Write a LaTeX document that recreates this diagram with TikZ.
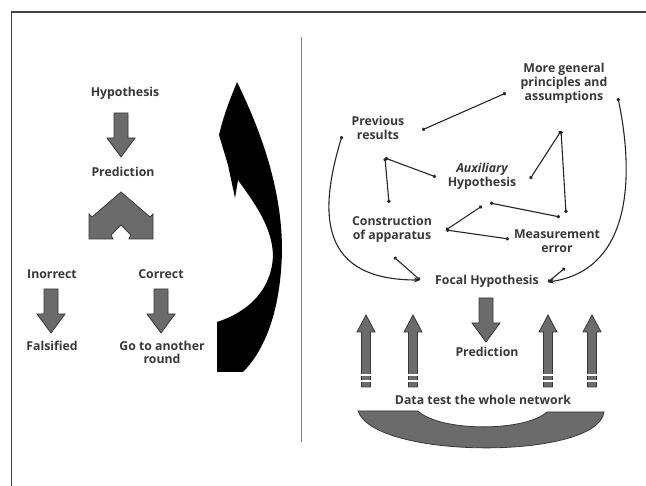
\documentclass[tikz,border=0pt]{standalone}
\usepackage{fontspec}
\setmainfont{Open Sans}
\usetikzlibrary{arrows.meta}
\begin{document}
\begin{tikzpicture}[x=1pt,y=-1pt,
  lbl/.style={font=\fontsize{12.3}{14}\selectfont\bfseries, text=black!78, align=center, inner sep=0pt},
  blk/.style={fill=black!58, draw=black!78, line width=0.8pt, line join=miter},
  con/.style={line width=1.1pt, draw=black!85, {Circle[length=3.4pt]}-{Circle[length=3.4pt]}},
  curv/.style={line width=1.1pt, draw=black!85, {Circle[length=3.4pt]}-{Stealth[length=6pt,width=5pt]}},
  dnarrow/.pic={\path[blk] (-7,0) -- (7,0) -- (7,25) -- (14,25) -- (0,44) -- (-14,25) -- (-7,25) -- cycle;},
  uparrow/.pic={\path[blk] (0,0) -- (9,17) -- (4.5,17) -- (4.5,72) -- (-4.5,72) -- (-4.5,17) -- (-9,17) -- cycle;
     \draw[white,line width=1.2pt] (-6,60) -- (6,60) (-6,66) -- (6,66);}
]
\fill[white] (0,0) rectangle (646,486);
\useasboundingbox (0,0) rectangle (646,486);

% frame and divider
\draw[line width=1.3pt, black!75] (11.5,486) -- (11.5,12) -- (646,12);
\draw[line width=0.8pt, black!50] (301,37) -- (301,442);

% ---------- left panel ----------
\node[lbl] (hyp) at (125,93) {Hypothesis};
\pic at (121,113) {dnarrow};
\node[lbl] (pred1) at (123,172) {Prediction};
\path[blk] (121,192) -- (92,217) -- (89,214) -- (89,239) -- (113,239) -- (111,235) -- (121,225)
   -- (131,235) -- (129,239) -- (153,239) -- (153,214) -- (150,217) -- cycle;
\node[lbl] (inc) at (52,274) {Inorrect};
\node[lbl] (cor) at (161,274) {Correct};
\pic at (51,289) {dnarrow};
\pic at (161,289) {dnarrow};
\node[lbl] (fal) at (52,346) {Falsified};
\node[lbl, font=\fontsize{12.3}{13}\selectfont\bfseries] (go) at (162,352) {Go to another\\round};

% big black curved arrow
\fill[black] (217,372) -- (217,322) .. controls (248,312) and (272,290) .. (273,255)
   .. controls (272,225) and (252,200) .. (238,180) -- (235,198) -- (228,165) -- (219,135)
   .. controls (225,110) and (232,95) .. (237,82)
   .. controls (258,125) and (282,185) .. (282,250)
   .. controls (281,310) and (265,350) .. (243,372) -- cycle;

% ---------- right panel ----------
\node[lbl] (mg) at (564,83) {More general\\principles and\\assumptions};
\node[lbl] (prev) at (378,128) {Previous\\results};
\node[lbl] (aux) at (482,176) {\itshape Auxiliary\\Hypothesis};
\node[lbl] (cons) at (392,229) {Construction\\of apparatus};
\node[lbl] (meas) at (557,241) {Measurement\\error};
\node[lbl] (focal) at (487,281) {Focal Hypothesis};
\node[lbl] (pred2) at (487,352) {Prediction};
\node[lbl] (data) at (483,400) {Data test the whole network};

\coordinate (c1a) at (422,130); \coordinate (c1b) at (506,93);
\coordinate (c2a) at (385,158); \coordinate (c2b) at (436,177); \coordinate (c2c) at (389,203);
\coordinate (c3a) at (561,131); \coordinate (c3b) at (530,179); \coordinate (c3c) at (566,213);
\coordinate (c4a) at (490,203); \coordinate (c4b) at (560,217);
\coordinate (c5a) at (446,230); \coordinate (c5b) at (482,206); \coordinate (c5c) at (509,239);
\coordinate (c6a) at (394,257); \coordinate (fl) at (420,280);
\coordinate (c7a) at (565,268); \coordinate (fr) at (548,282);
\coordinate (lc) at (342,136); \coordinate (rc) at (618,98);

\draw[con] (c1a) -- (c1b);
\draw[con] (c2a) -- (c2b);
\draw[con] (c2a) -- (c2c);
\draw[con] (c3a) -- (c3b);
\draw[con] (c3a) -- (c3c);
\draw[con] (c4a) -- (c4b);
\draw[con] (c5a) -- (c5b);
\draw[con] (c5a) -- (c5c);
\draw[con] (c6a) -- (fl);
\draw[con] (c7a) -- (fr);
\draw[curv] (lc) .. controls (318,215) and (320,280) .. (fl);
\draw[curv] (rc) .. controls (635,180) and (630,270) .. (fr);

\pic at (486,298) {dnarrow};
\pic at (366,315) {uparrow};
\pic at (413,315) {uparrow};
\pic at (548,315) {uparrow};
\pic at (592,315) {uparrow};

% bowl
\path[blk] (358,411) -- (418,411) .. controls (440,432) and (525,432) .. (547,412) -- (604,412)
   .. controls (598,460) and (375,460) .. (358,411) -- cycle;
\end{tikzpicture}
\end{document}
